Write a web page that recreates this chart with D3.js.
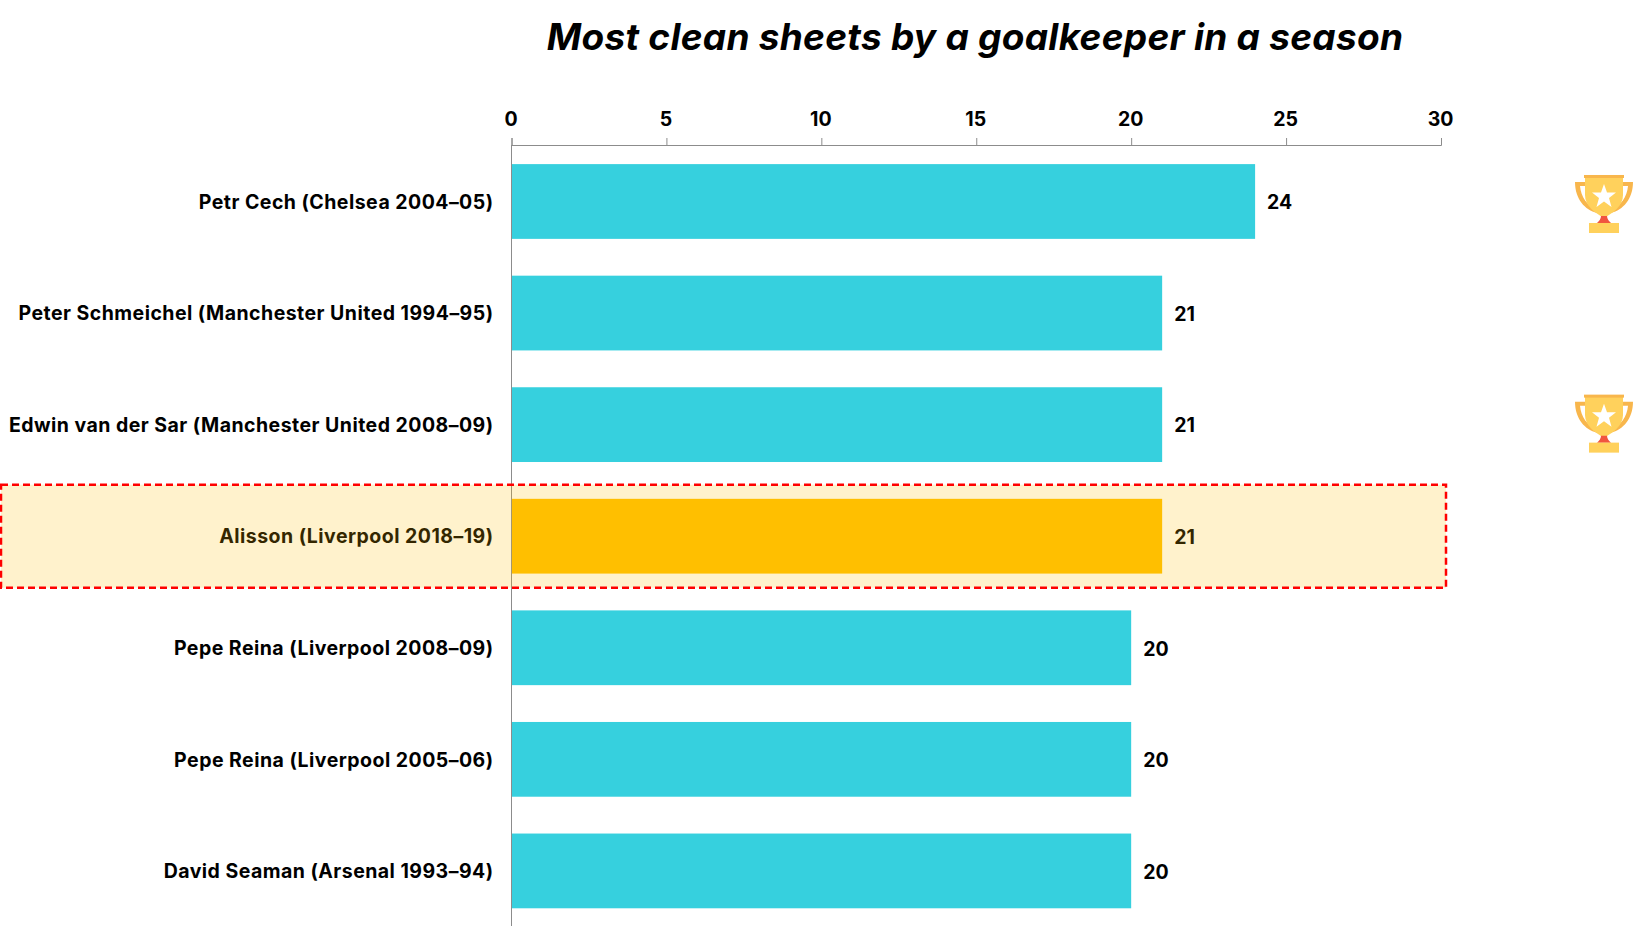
<!DOCTYPE html>
<html>
<head>
<meta charset="utf-8">
<script src="https://cdn.jsdelivr.net/npm/d3@7"></script>
<style>
  html, body { margin: 0; padding: 0; background: #fff; overflow: hidden; }
  text { font-family: Inter, Lato, sans-serif; font-weight: 700; fill: #000; }
</style>
</head>
<body>
<div id="chart"></div>
<script>
const keepers = [
  "Petr Cech (Chelsea 2004–05)",
  "Peter Schmeichel (Manchester United 1994–95)",
  "Edwin van der Sar (Manchester United 2008–09)",
  "Alisson (Liverpool 2018–19)",
  "Pepe Reina (Liverpool 2008–09)",
  "Pepe Reina (Liverpool 2005–06)",
  "David Seaman (Arsenal 1993–94)"
]
const cleanSheets = [24, 21, 21, 21, 20, 20, 20]
const axisTicks = [0, 5, 10, 15, 20, 25, 30]
const highlighted = "Alisson (Liverpool 2018–19)"
const trophyRows = ["Petr Cech (Chelsea 2004–05)", "Edwin van der Sar (Manchester United 2008–09)"]
const title = "Most clean sheets by a goalkeeper in a season"

const width = 1633
const height = 950

const svg = d3
  .select("#chart")
  .append("svg")
  .attr("width", width)
  .attr("height", height)

const x = d3.scaleLinear().domain([0, 30]).range([511.5, 1441])
const y = d3.scaleBand().domain(keepers).range([145.7, 926.7]).paddingInner(0.33).paddingOuter(0.165)

svg
  .append("text")
  .attr("x", 975)
  .attr("y", 50)
  .attr("text-anchor", "middle")
  .style("font-size", "37px")
  .style("font-style", "italic")
  .style("letter-spacing", "0.28px")
  .text(title)

// bars
svg
  .selectAll(".bar")
  .data(keepers)
  .join("rect")
  .attr("class", "bar")
  .attr("x", x(0))
  .attr("y", (d) => y(d))
  .attr("width", (d, i) => x(cleanSheets[i]) - x(0))
  .attr("height", y.bandwidth())
  .attr("fill", (d) => (d === highlighted ? "#FFC000" : "#36D0DE"))

// top axis
const xAxis = d3.axisTop(x).tickValues(axisTicks).tickSize(7).tickPadding(12)
const axisG = svg.append("g").attr("transform", "translate(0,145)").call(xAxis)
axisG.selectAll("path, line").attr("stroke", "#8c8c8c").attr("stroke-width", 1)
axisG
  .selectAll("text")
  .attr("dx", -1)
  .style("font-size", "19.5px")
  .style("font-family", "Inter")
  .attr("fill", "#000")

// vertical baseline
svg
  .append("line")
  .attr("x1", x(0))
  .attr("x2", x(0))
  .attr("y1", 145)
  .attr("y2", 926)
  .attr("stroke", "#8c8c8c")
  .attr("stroke-width", 1)

// names
svg
  .selectAll(".name")
  .data(keepers)
  .join("text")
  .attr("class", "name")
  .attr("x", x(0) - 18)
  .attr("y", (d) => y(d) + y.bandwidth() / 2)
  .attr("dy", "0.37em")
  .attr("text-anchor", "end")
  .style("font-size", "19.5px")
  .style("letter-spacing", "0.47px")
  .text((d) => d)

// values
svg
  .selectAll(".value")
  .data(keepers)
  .join("text")
  .attr("class", "value")
  .attr("x", (d, i) => x(cleanSheets[i]) + 12)
  .attr("y", (d) => y(d) + y.bandwidth() / 2)
  .attr("dy", "0.4em")
  .style("font-size", "19.5px")
  .text((d, i) => cleanSheets[i])

// highlight band sits over the row, tints the text too
svg
  .append("rect")
  .attr("x", 1)
  .attr("y", y(highlighted) + y.bandwidth() / 2 - 51.5)
  .attr("width", 1445)
  .attr("height", 103)
  .attr("fill", "#FFC000")
  .attr("fill-opacity", 0.2)
  .attr("stroke", "#FF0000")
  .attr("stroke-width", 2.5)
  .attr("stroke-dasharray", "7 4")

// trophy icons, drawn in a 58x58 box
const trophy = svg
  .selectAll(".trophy")
  .data(trophyRows)
  .join("g")
  .attr("class", "trophy")
  .attr("transform", (d, i) => `translate(1575,${y(d) + y.bandwidth() / 2 - 28 + (i ? -2 : 1.5)})`)

trophy
  .append("path")
  .attr("d", "M0 7H13V11H5C6 22 12 31 22 34V38C10 35 0 24 0 7ZM58 7H45V11H53C52 22 46 31 36 34V38C48 35 58 24 58 7Z")
  .attr("fill", "#F8B64C")
trophy
  .append("path")
  .attr("d", "M10 2H48V20C48 31 38 38 29 43C20 38 10 31 10 20Z")
  .attr("fill", "#FFD15C")
trophy.append("rect").attr("x", 9).attr("width", 40).attr("height", 3).attr("fill", "#F8B64C")
trophy
  .append("path")
  .attr("d", "M26 41H32C32 44 34 46 36 48H22C24 46 26 44 26 41Z")
  .attr("fill", "#F1543F")
trophy.append("rect").attr("x", 14).attr("y", 48).attr("width", 30).attr("height", 10).attr("fill", "#FFD15C")
trophy
  .append("path")
  .attr("d", "M29 9L32 17.500H41L34 23L36.500 32L29 26.500L21.500 32L24 23L17 17.500H26Z")
  .attr("fill", "#fff")
</script>
</body>
</html>
